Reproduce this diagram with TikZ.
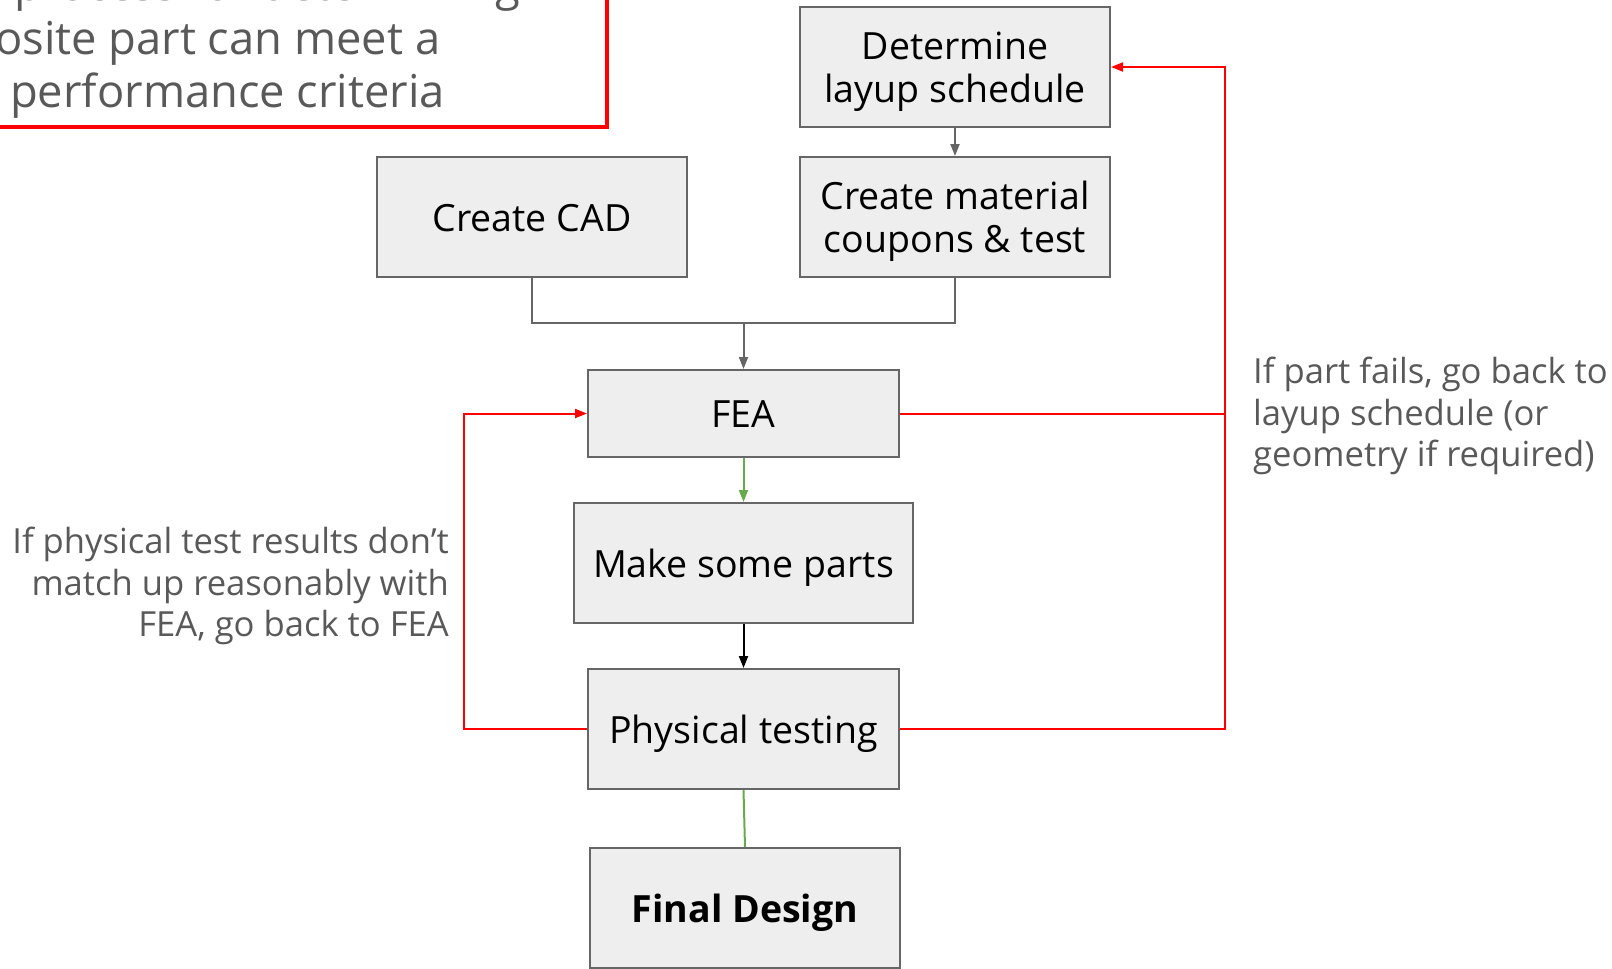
\documentclass[tikz,border=0pt]{standalone}
\usepackage{fontspec}
\setmainfont{Open Sans}
\usetikzlibrary{arrows.meta}
\definecolor{boxfill}{HTML}{EEEEEE}
\definecolor{boxline}{HTML}{666666}
\definecolor{labelgray}{HTML}{595959}
\definecolor{redline}{HTML}{FF0000}
\definecolor{greenline}{HTML}{6AA84F}
\newcommand{\stT}{\rule{0pt}{1.07em}}
\newcommand{\stB}{\rule[-0.3em]{0pt}{0.3em}}
\tikzset{
  box/.style={draw=boxline, fill=boxfill, line width=2pt, inner sep=0pt, align=center,
    font=\fontsize{37.5}{43}\selectfont, text=black},
  conn/.style={line width=2pt, draw=boxline},
  tip/.style={-{Triangle[length=12pt,width=9pt]}},
  fb/.style={line width=2pt, draw=redline},
  gr/.style={line width=2pt, draw=greenline},
  bk/.style={line width=2pt, draw=black},
  note/.style={text=labelgray, font=\fontsize{34.6}{41.5}\selectfont, inner sep=0pt},
  titletxt/.style={text=labelgray, font=\fontsize{45.3}{53}\selectfont, inner sep=0pt},
}
\begin{document}
\begin{tikzpicture}[x=1pt,y=-1pt]
\useasboundingbox (0,0) rectangle (1612,969);
\clip (0,0) rectangle (1612,969);

% title box (cut off)
\draw[line width=4pt, draw=redline] (-10,126.5) -- (606.5,126.5) -- (606.5,-10);
\node[titletxt, anchor=base west] (t1) at (14,0.5) {process for determining};
\node[titletxt, anchor=base west] (t2) at (-5,54) {osite part can meet a};
\node[titletxt, anchor=base west] (t3) at (10,107) {performance criteria};

% boxes
\node[box, minimum width=310pt, minimum height=120pt] (det) at (955,67) {\stT Determine\\layup schedule\stB};
\node[box, minimum width=310pt, minimum height=120pt] (mat) at (955,217) {\stT Create material\\coupons \& test\stB};
\node[box, minimum width=310pt, minimum height=120pt] (cad) at (532,217) {\stT Create CAD\stB};
\node[box, minimum width=311pt, minimum height=87pt] (fea) at (743.5,413.5) {\stT FEA\stB};
\node[box, minimum width=339pt, minimum height=120pt] (make) at (743.5,563) {\stT Make some parts\stB};
\node[box, minimum width=311pt, minimum height=120pt] (phys) at (743.5,729) {\stT Physical testing\stB};
\node[box, minimum width=310pt, minimum height=120pt, font=\fontsize{37.5}{43}\selectfont\bfseries] (final) at (745,908) {\stT Final Design\stB};

% connectors
\coordinate (join) at (743.5,323);
\coordinate (rx) at (1225,0);
\coordinate (lx) at (464,0);
\draw[conn, tip] (det.south) -- (mat.north);
\draw[conn] (cad.south) -- (cad.south |- join) -- (mat.south |- join) -- (mat.south);
\draw[conn, tip] (join) -- (fea.north);
\draw[gr, tip] (fea.south) -- (make.north);
\draw[bk, tip] (make.south) -- (phys.north);
\draw[gr] (phys.south) -- (final.north);
\draw[fb, tip] (phys.east) -- (phys.east -| rx) -- (det.east -| rx) -- (det.east);
\draw[fb] (fea.east) -- (fea.east -| rx);
\draw[fb, tip] (phys.west) -- (phys.west -| lx) -- (fea.west -| lx) -- (fea.west);

% labels
\node[note, align=left, anchor=west] (rlab) at (1253,416) {If part fails, go back to\\layup schedule (or\\geometry if required)};
\node[note, align=right, anchor=east] (llab) at (449,586) {If physical test results don’t\\match up reasonably with\\FEA, go back to FEA};
\end{tikzpicture}
\end{document}
